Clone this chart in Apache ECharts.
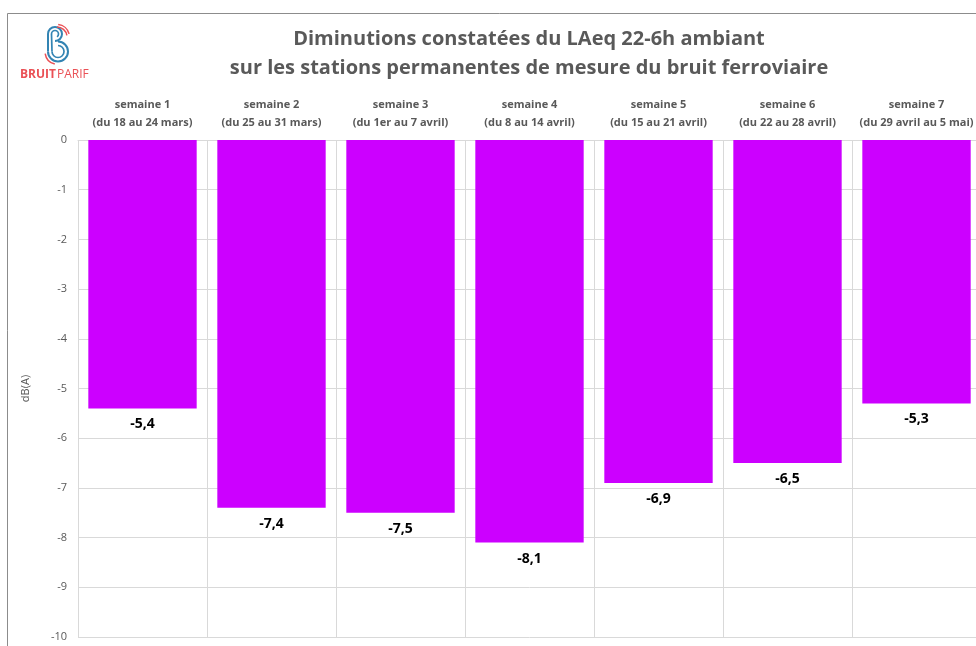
<!DOCTYPE html>
<html>
<head>
<meta charset="utf-8">
<script src="https://cdn.jsdelivr.net/npm/echarts@6/dist/echarts.min.js"></script>
<style>
html,body{margin:0;padding:0;background:#fff;overflow:hidden;width:976px;height:646px;}
#chart{width:990px;height:646px;}
</style>
</head>
<body>
<div id="chart"></div>
<script>
const weekNames = ['semaine 1','semaine 2','semaine 3','semaine 4','semaine 5','semaine 6','semaine 7'];
const weekRanges = ['(du 18 au 24 mars)','(du 25 au 31 mars)','(du 1er au 7 avril)','(du 8 au 14 avril)','(du 15 au 21 avril)','(du 22 au 28 avril)','(du 29 avril au 5 mai)'];
const decreases = [-5.4, -7.4, -7.5, -8.1, -6.9, -6.5, -5.3];
const titleLines = ['Diminutions constatées du LAeq 22-6h ambiant','sur les stations permanentes de mesure du bruit ferroviaire'];
const yAxisName = 'dB(A)';

const FONT = '"Open Sans", "Liberation Sans", sans-serif';
const GREY = '#595959';
const categories = weekNames.map((n, i) => n + '\n' + weekRanges[i]);

const BLUE = '#3384b3', RED = '#ea5055';
const PI = Math.PI;
function arc(cx, cy, r, a0, a1, color, w) {
  return {type: 'arc', silent: true, shape: {cx: cx, cy: cy, r: r, startAngle: a0, endAngle: a1, clockwise: true},
    style: {fill: 'none', stroke: color, lineWidth: w}};
}
function seg(x1, y1, x2, y2, color, w) {
  return {type: 'line', silent: true, shape: {x1: x1, y1: y1, x2: x2, y2: y2}, style: {stroke: color, lineWidth: w}};
}
const logo = [
  arc(55, 34, 7, PI, PI * 2.5, BLUE, 2),
  arc(58, 51.5, 10, -PI * 0.5, PI, BLUE, 2),
  seg(48, 34, 48, 51.5, BLUE, 2),
  arc(55, 34, 3.5, PI, PI * 2.3, BLUE, 1.7),
  arc(58, 51.5, 6, -PI * 0.5, PI, BLUE, 1.7),
  seg(51.5, 34, 52, 51.5, BLUE, 1.7),
  arc(57, 37, 10, -PI * 0.5, -PI * 0.05, RED, 1.5),
  arc(57, 37, 12.5, -PI * 0.47, -PI * 0.08, RED, 1.5),
  arc(58, 51.5, 13, PI * 0.58, PI * 0.95, RED, 1.5),
  {type: 'text', silent: true, x: 20, y: 75, style: {text: 'BRUIT', fill: RED, font: 'bold 12px ' + FONT, verticalAlign: 'middle'}},
  {type: 'text', silent: true, x: 57, y: 75, style: {text: 'PARIF', fill: RED, font: '12px ' + FONT, verticalAlign: 'middle'}}
];

const chart = echarts.init(document.getElementById('chart'), null, {renderer: 'canvas'});
chart.setOption({
  animation: false,
  backgroundColor: '#ffffff',
  grid: {left: 78, top: 140, width: 903, height: 497, containLabel: false},
  xAxis: {
    type: 'category',
    position: 'top',
    data: categories,
    axisTick: {show: false},
    axisLine: {show: true, lineStyle: {color: '#d9d9d9', width: 1}},
    splitLine: {show: true, lineStyle: {color: '#d9d9d9', width: 1}},
    axisLabel: {
      interval: 0,
      margin: 8,
      color: GREY,
      fontFamily: FONT,
      fontSize: 11,
      fontWeight: 'bold',
      lineHeight: 18
    }
  },
  yAxis: {
    type: 'value',
    min: -10,
    max: 0,
    interval: 1,
    name: yAxisName,
    nameLocation: 'middle',
    nameGap: 47,
    nameTextStyle: {color: GREY, fontFamily: FONT, fontSize: 11},
    axisLine: {show: false},
    axisTick: {show: false},
    axisLabel: {color: GREY, fontFamily: FONT, fontSize: 11, margin: 11},
    splitLine: {show: true, lineStyle: {color: '#d9d9d9', width: 1}}
  },
  series: [{
    type: 'bar',
    data: decreases,
    barCategoryGap: '16%',
    itemStyle: {color: '#cc00ff'},
    label: {
      show: true,
      position: 'bottom',
      distance: 9,
      color: '#000',
      fontFamily: FONT,
      fontSize: 14,
      fontWeight: 'bold',
      formatter: p => p.value.toFixed(1).replace('.', ',')
    }
  }],
  graphic: [
    {type: 'rect', silent: true, z: -10, shape: {x: 7.5, y: 13.5, width: 1200, height: 800}, style: {fill: 'none', stroke: '#8c8c8c', lineWidth: 1}},
    {type: 'text', silent: true, x: 529, y: 39, style: {text: titleLines[0], fill: GREY, font: 'bold 20px ' + FONT, align: 'center', verticalAlign: 'middle'}},
    {type: 'text', silent: true, x: 529, y: 68, style: {text: titleLines[1], fill: GREY, font: 'bold 20px ' + FONT, align: 'center', verticalAlign: 'middle'}}
  ].concat(logo)
});
</script>
</body>
</html>
